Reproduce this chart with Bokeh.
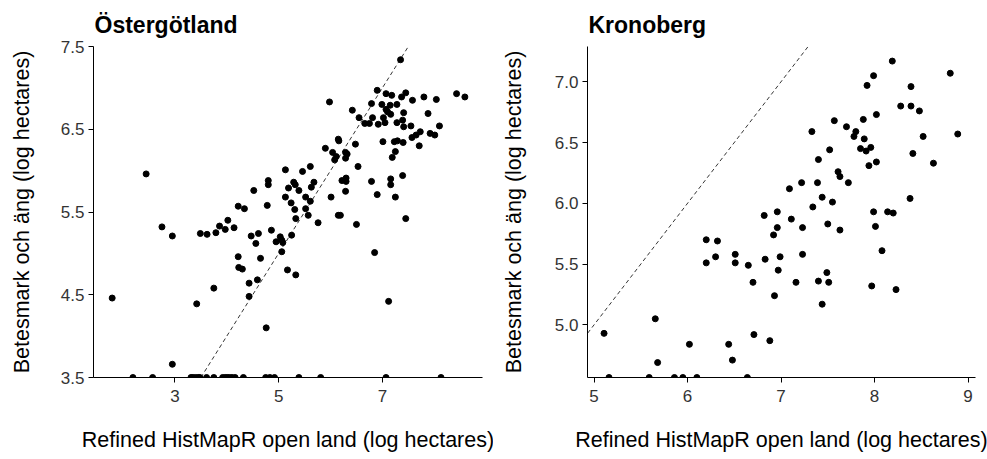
from bokeh.plotting import figure
from bokeh.layouts import row
from bokeh.models import Range1d, FixedTicker, Slope, PrintfTickFormatter
from bokeh.embed import file_html
from bokeh.resources import INLINE

# Östergötland: open land (x) vs pasture/meadow (y), both log hectares
ost_x = [1.79, 2.445, 2.75, 2.95, 2.95, 3.42, 3.49, 3.62, 3.75, 3.79, 3.86, 3.97, 4.02, 4.14,
         4.22, 4.34, 4.22, 4.23, 4.30, 4.43, 4.43, 4.47, 4.52, 4.56, 4.59, 4.61, 4.65, 4.76,
         4.78, 4.80, 4.80, 4.86, 4.95, 5.03, 5.06, 5.08, 5.06, 5.13, 5.13, 5.17, 5.19, 5.24,
         5.25, 5.29, 5.31, 5.32, 5.33, 5.33, 5.39, 5.46, 5.52, 5.52, 5.57, 5.61, 5.61, 5.63,
         5.68, 5.76, 5.90, 5.98, 6.01, 6.04, 6.08, 6.11, 6.15, 6.16, 6.15, 6.19, 6.22, 6.29,
         6.29, 6.32, 6.30, 6.30, 6.29, 6.42, 6.48, 6.53, 6.50, 6.55, 6.66, 6.75, 6.79, 6.81,
         6.79, 6.85, 6.90, 6.90, 6.92, 6.99, 7.01, 7.02, 7.05, 7.07, 7.07, 7.10, 7.12, 7.15,
         7.16, 7.18, 7.16, 7.16, 7.19, 7.23, 7.25, 7.25, 7.28, 7.28, 7.29, 7.35, 7.37, 7.39,
         7.39, 7.40, 7.41, 7.41, 7.45, 7.45, 7.55, 7.57, 7.58, 7.65, 7.71, 7.73, 7.80, 7.88,
         7.92, 8.01, 8.04, 8.10, 8.43, 8.59]
ost_y = [4.46, 5.96, 5.32, 5.21, 3.66, 4.39, 5.24, 5.23, 4.58, 5.25, 5.33, 5.29, 5.40, 5.31,
         5.57, 5.54, 4.96, 4.83, 4.81, 4.64, 4.48, 5.21, 5.76, 5.12, 4.68, 5.24, 4.94, 4.10,
         5.58, 5.88, 5.83, 5.28, 5.14, 5.20, 5.16, 5.13, 5.02, 6.01, 5.68, 4.80, 5.79, 5.61,
         5.22, 5.86, 5.53, 5.83, 5.42, 4.74, 5.76, 5.99, 5.68, 5.54, 5.46, 5.63, 6.05, 5.80,
         5.86, 5.37, 6.27, 6.83, 5.68, 6.22, 6.13, 6.17, 6.38, 6.36, 5.46, 5.46, 5.88, 6.22,
         6.15, 6.20, 5.91, 5.87, 5.75, 6.73, 6.32, 6.05, 5.35, 6.64, 6.57, 6.57, 5.87, 6.64,
         6.81, 5.01, 6.97, 5.71, 6.56, 6.80, 6.35, 6.64, 6.58, 6.93, 6.74, 6.71, 4.42, 6.79,
         6.68, 6.91, 5.90, 5.83, 6.16, 6.35, 6.23, 5.68, 6.58, 6.80, 6.36, 7.34, 6.89, 5.94,
         6.61, 6.34, 6.70, 6.53, 6.94, 5.42, 6.54, 6.40, 6.85, 6.43, 6.30, 6.47, 6.89, 6.69,
         6.45, 6.43, 6.86, 6.54, 6.93, 6.89]
# counties with no recorded pasture/meadow sit on the lower limit
ost_floor_x = [2.19, 2.57, 3.31, 3.35, 3.40, 3.45, 3.48, 3.61, 3.75, 3.92, 3.97, 4.01, 4.05,
               4.10, 4.16, 4.32, 4.75, 4.83, 4.92, 5.39, 5.81, 7.07, 8.13]

# Kronoberg
kro_x = [5.107, 5.655, 5.68, 6.02, 6.20, 6.20, 6.30, 6.32, 6.44, 6.48, 6.51, 6.51, 6.65, 6.70,
         6.71, 6.82, 6.83, 6.88, 6.92, 6.93, 6.96, 6.96, 6.97, 6.99, 7.09, 7.11, 7.16, 7.22,
         7.23, 7.23, 7.33, 7.34, 7.39, 7.40, 7.40, 7.44, 7.44, 7.49, 7.50, 7.51, 7.52, 7.55,
         7.57, 7.61, 7.63, 7.63, 7.70, 7.72, 7.78, 7.80, 7.85, 7.88, 7.89, 7.91, 7.92, 7.94,
         7.96, 7.97, 7.99, 7.99, 8.01, 8.02, 8.02, 8.08, 8.14, 8.19, 8.20, 8.23, 8.28, 8.38,
         8.39, 8.39, 8.41, 8.48, 8.52, 8.63, 8.81, 8.89]
kro_y = [4.93, 5.05, 4.69, 4.84, 5.70, 5.51, 5.56, 5.69, 4.84, 4.71, 5.58, 5.51, 5.49, 5.35,
         4.92, 5.90, 5.54, 4.87, 5.74, 5.24, 5.93, 5.80, 5.45, 5.56, 6.12, 5.87, 5.35, 6.17,
         5.80, 5.58, 6.59, 5.97, 6.17, 6.36, 5.36, 6.05, 5.17, 5.43, 5.83, 5.35, 6.44, 6.01,
         6.68, 6.26, 6.22, 5.78, 6.63, 6.17, 6.55, 6.59, 6.45, 6.69, 6.53, 6.43, 6.97, 6.31,
         6.46, 5.32, 7.05, 5.93, 5.81, 6.73, 6.34, 5.61, 5.93, 7.17, 5.92, 5.29, 6.80, 6.04,
         6.96, 6.80, 6.41, 6.76, 6.55, 6.33, 7.07, 6.57]
kro_floor_x = [5.16, 5.59, 5.86, 5.95, 6.10, 6.64]

X_LABEL = "Refined HistMapR open land (log hectares)"
Y_LABEL = "Betesmark och äng (log hectares)"
FONT = "Liberation Sans"


def panel(title, xs, ys, floor_xs, xr, yr, xticks, yticks, width, border_left, border_right,
          ylab_standoff):
    p = figure(width=width, height=459, output_backend="svg", toolbar_location=None,
               x_range=Range1d(*xr), y_range=Range1d(*yr),
               min_border_left=border_left, min_border_right=border_right,
               min_border_top=46, min_border_bottom=82, title=title)
    p.title.text_font = FONT
    p.title.text_font_size = "23px"
    p.title.text_font_style = "bold"
    p.title.text_color = "black"
    p.title.offset = 1
    p.title.standoff = 18
    p.outline_line_color = None
    p.background_fill_color = "white"
    p.border_fill_color = "white"
    p.xgrid.visible = False
    p.ygrid.visible = False

    for ax in (p.xaxis[0], p.yaxis[0]):
        ax.axis_line_color = "black"
        ax.axis_line_width = 1
        ax.major_tick_line_color = "black"
        ax.major_tick_out = 5
        ax.major_tick_in = 0
        ax.minor_tick_line_color = None
        ax.major_label_text_font = FONT
        ax.major_label_text_font_size = "17px"
        ax.major_label_text_color = "#333333"
        ax.axis_label_text_font = FONT
        ax.axis_label_text_font_size = "21.5px"
        ax.axis_label_text_font_style = "normal"
        ax.axis_label_text_color = "black"

    p.xaxis.ticker = FixedTicker(ticks=xticks)
    p.yaxis.ticker = FixedTicker(ticks=yticks)
    p.xaxis.formatter = PrintfTickFormatter(format="%d")
    p.yaxis.formatter = PrintfTickFormatter(format="%.1f")
    p.xaxis.axis_label = X_LABEL
    p.yaxis.axis_label = Y_LABEL
    p.xaxis.major_label_standoff = 7
    p.yaxis.major_label_standoff = 4
    p.xaxis.axis_label_standoff = 23
    p.yaxis.axis_label_standoff = ylab_standoff

    # 1:1 reference line
    p.add_layout(Slope(gradient=1, y_intercept=0, line_color="black",
                       line_width=0.8, line_dash="4 3"))

    p.scatter(xs, ys, size=6, color="black")
    p.scatter(floor_xs, [yr[0]] * len(floor_xs), size=6, color="black")
    return p


left = panel("Östergötland", ost_x, ost_y, ost_floor_x,
             (1.43, 8.93), (3.5, 7.5), [3, 5, 7], [3.5, 4.5, 5.5, 6.5, 7.5],
             493, 93, 11, 24)
right = panel("Kronoberg", kro_x, kro_y, kro_floor_x,
              (4.93, 9.08), (4.567, 7.29), [5, 6, 7, 8, 9], [5.0, 5.5, 6.0, 6.5, 7.0],
              494, 94, 12, 26)

layout = row(left, right)
open("out.html", "w").write(file_html(layout, INLINE))
